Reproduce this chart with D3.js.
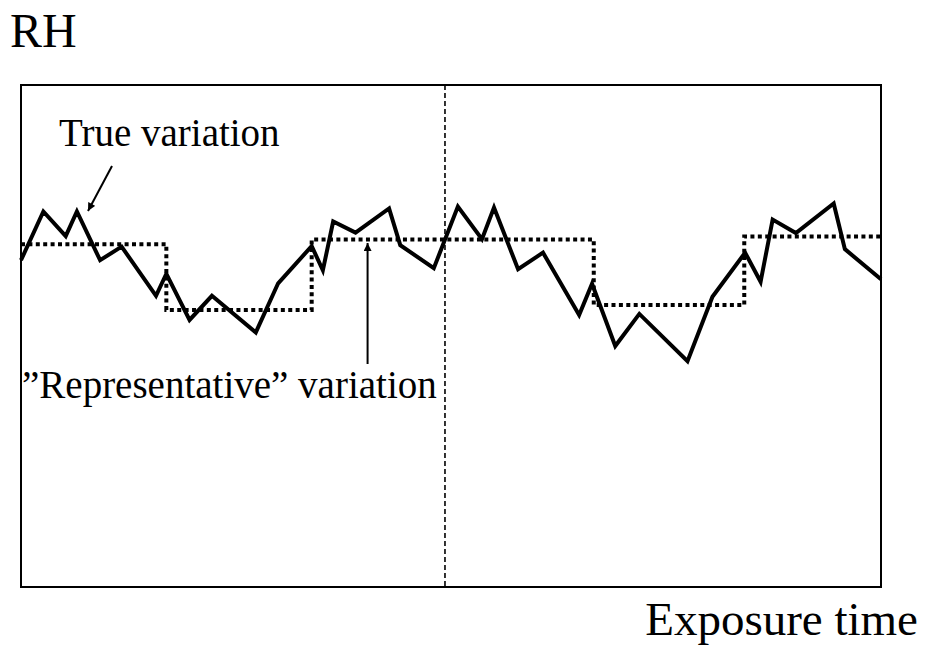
<!DOCTYPE html>
<html>
<head>
<meta charset="utf-8">
<script src="https://cdn.jsdelivr.net/npm/d3@7"></script>
<style>
  html, body { margin: 0; padding: 0; background: #fff; }
  svg { display: block; }
  text { font-family: "Liberation Serif", "Times New Roman", serif; fill: #000; }
</style>
</head>
<body>
<svg id="chart" width="925" height="645"></svg>
<script>
// ---- Data (time in arbitrary units 0..100, RH in arbitrary units 0..100) ----
const trueTime = [0, 2.6, 5.2, 6.5, 9.2, 11.7, 15.7, 16.9, 19.6, 22.2, 27.3, 29.9, 33.8, 35.1, 36.3, 38.9, 42.8, 44.1, 48.0,
                  50.8, 53.6, 55.0, 57.8, 60.7, 64.9, 66.4, 69.1, 71.9, 77.5, 80.4, 84.2, 86.0, 87.4, 90.1, 94.5, 95.8, 100];
const trueRH   = [65.1, 74.8, 69.9, 74.8, 65.1, 67.8, 58.0, 62.4, 53.2, 58.0, 50.7, 60.5, 67.9, 63.1, 72.8, 70.6, 75.4, 68.1, 63.5,
                  75.8, 69.3, 75.6, 63.3, 66.6, 54.2, 60.4, 48.0, 54.4, 45.0, 57.8, 66.6, 60.8, 73.2, 70.5, 76.4, 67.3, 61.3];
const repTime  = [0, 16.9, 33.8, 66.6, 84.1, 100];
const repRH    = [68.3, 55.2, 69.2, 56.2, 69.8, 69.8];
const splitTime = 49.3;
const labels = { y: "RH", x: "Exposure time", trueVar: "True variation", repVar: "\u201DRepresentative\u201D variation" };

// ---- Layout ----
const svg = d3.select("#chart");
const plotLeft = 21, plotRight = 881, plotTop = 85, plotBottom = 587;
const x = d3.scaleLinear().domain([0, 100]).range([plotLeft, plotRight]);
const y = d3.scaleLinear().domain([0, 100]).range([plotBottom, plotTop]);

// defs: arrowhead
const defs = svg.append("defs");
defs.append("marker").attr("id", "arrow")
  .attr("viewBox", "0 0 10 10").attr("refX", 10).attr("refY", 5)
  .attr("markerWidth", 10).attr("markerHeight", 8).attr("markerUnits", "userSpaceOnUse")
  .attr("orient", "auto")
  .append("path").attr("d", "M0,0 L10,5 L0,10 Z").attr("fill", "#000");

// frame
svg.append("rect")
  .attr("x", x(0)).attr("y", y(100))
  .attr("width", x(100) - x(0)).attr("height", y(0) - y(100))
  .attr("fill", "none").attr("stroke", "#000").attr("stroke-width", 2);

// vertical dashed split
svg.append("line")
  .attr("x1", x(splitTime)).attr("x2", x(splitTime))
  .attr("y1", y(100)).attr("y2", y(0))
  .attr("stroke", "#000").attr("stroke-width", 1.6).attr("stroke-dasharray", "5,3");

// representative (step) line
const repData = repTime.map((t, i) => [t, repRH[i]]);
svg.append("path")
  .datum(repData)
  .attr("d", d3.line().x(d => x(d[0])).y(d => y(d[1])).curve(d3.curveStepAfter))
  .attr("fill", "none").attr("stroke", "#000").attr("stroke-width", 4)
  .attr("stroke-dasharray", "4,3.4");

// true variation line
const trueData = trueTime.map((t, i) => [t, trueRH[i]]);
svg.append("path")
  .datum(trueData)
  .attr("d", d3.line().x(d => x(d[0])).y(d => y(d[1])))
  .attr("fill", "none").attr("stroke", "#000").attr("stroke-width", 4)
  .attr("stroke-linejoin", "miter");

// annotations
svg.append("text").attr("x", 59).attr("y", 146).attr("font-size", 39).text(labels.trueVar);
svg.append("line")
  .attr("x1", 112).attr("y1", 166).attr("x2", 88).attr("y2", 211)
  .attr("stroke", "#000").attr("stroke-width", 2).attr("marker-end", "url(#arrow)");

svg.append("text").attr("x", 22).attr("y", 398).attr("font-size", 39).text(labels.repVar);
svg.append("line")
  .attr("x1", x(40.3)).attr("y1", 364).attr("x2", x(40.3)).attr("y2", 243)
  .attr("stroke", "#000").attr("stroke-width", 2).attr("marker-end", "url(#arrow)");

// axis titles
svg.append("text").attr("x", 10).attr("y", 47).attr("font-size", 48).text(labels.y);
svg.append("text").attr("x", 918).attr("y", 635).attr("font-size", 47)
  .attr("text-anchor", "end").text(labels.x);
</script>
</body>
</html>
